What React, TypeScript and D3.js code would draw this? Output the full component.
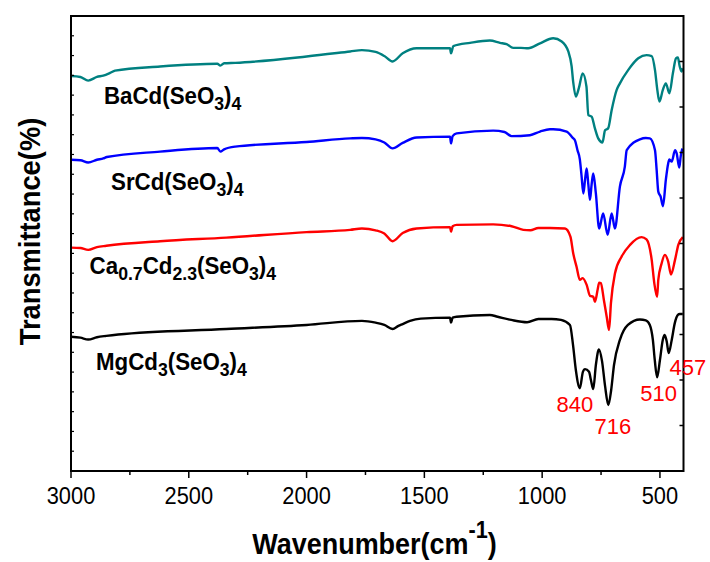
import React from "react";
import * as d3 from "d3";

// ---- data (wavenumber cm^-1, transmittance in arbitrary %-units) ----
const baData: [number, number][] = [
  [3000, 86.8], [2960, 86.6], [2927, 85.8], [2890, 86.6], [2863, 86.9], [2834, 87.5], [2813, 88.0],
  [2622, 88.9], [2379, 89.5], [2366, 89.1], [2350, 89.6], [2303, 89.7], [2000, 91.1], [1815, 92.2],
  [1765, 92.5], [1707, 92.1], [1670, 91.2], [1635, 90.0], [1592, 91.8], [1533, 92.9], [1391, 92.9],
  [1387, 91.8], [1377, 93.4], [1306, 94.1], [1222, 94.6], [1179, 94.1], [1151, 93.8], [1123, 93.0],
  [1090, 93.0], [1059, 92.9], [1009, 94.0], [953, 95.1], [917, 94.4], [889, 92.2], [875, 89.0],
  [868, 85.4], [857, 82.3], [844, 84.2], [828, 87.4], [812, 84.5], [804, 78.2], [790, 77.9],
  [776, 75.3], [762, 73.1], [744, 72.2], [733, 74.9], [720, 75.3], [705, 79.3], [684, 83.7],
  [670, 85.2], [635, 88.1], [592, 90.7], [557, 91.4], [535, 91.2], [521, 88.1], [511, 83.7],
  [502, 81.2], [488, 83.7], [475, 85.2], [460, 83.0], [445, 87.4], [432, 90.7], [424, 90.9],
  [416, 88.9], [408, 87.8], [404, 88.5],
];

const srData: [number, number][] = [
  [3000, 68.4], [2960, 68.3], [2927, 67.8], [2890, 68.4], [2863, 68.7], [2848, 69.0], [2622, 70.2],
  [2379, 71.0], [2366, 70.2], [2350, 70.7], [2303, 71.3], [2000, 72.3], [1815, 73.1], [1765, 73.2],
  [1707, 72.9], [1670, 72.2], [1635, 70.9], [1592, 72.1], [1533, 73.3], [1391, 73.5], [1387, 72.0],
  [1380, 73.6], [1363, 74.2], [1208, 74.8], [1160, 74.5], [1130, 73.6], [1052, 73.8], [1009, 74.6],
  [967, 75.1], [953, 75.1], [896, 74.6], [870, 73.2], [861, 72.7], [850, 70.5], [840, 68.5],
  [833, 65.0], [825, 61.0], [818, 64.0], [811, 66.5], [804, 63.0], [797, 59.6], [790, 63.0],
  [783, 65.4], [772, 61.0], [758, 53.3], [741, 56.6], [722, 51.9], [705, 56.6], [691, 53.3],
  [670, 62.5], [649, 66.9], [641, 70.5], [585, 72.9], [560, 73.2], [543, 73.1], [521, 70.5],
  [514, 66.2], [507, 61.4], [497, 60.3], [487, 58.2], [475, 64.0], [465, 67.6], [460, 68.5],
  [450, 68.0], [436, 70.5], [429, 69.8], [418, 66.7], [412, 69.1], [405, 70.9],
];

const caData: [number, number][] = [
  [3000, 49.1], [2960, 49.0], [2927, 48.6], [2890, 49.2], [2850, 49.5], [2622, 50.5], [2341, 51.3],
  [2000, 52.5], [1815, 53.0], [1765, 53.3], [1707, 52.9], [1670, 52.2], [1635, 50.5], [1592, 52.3],
  [1533, 53.3], [1391, 53.6], [1387, 52.6], [1380, 53.8], [1363, 54.1], [1208, 54.2], [1130, 53.8],
  [1080, 53.0], [1050, 52.9], [1016, 53.4], [967, 53.4], [903, 53.3], [880, 51.5], [868, 47.8],
  [854, 44.9], [840, 42.0], [828, 42.4], [811, 40.9], [797, 38.5], [783, 38.3], [776, 37.2],
  [764, 40.0], [758, 41.4], [751, 41.3], [738, 37.6], [726, 33.9], [716, 31.0], [708, 36.9],
  [691, 43.4], [663, 47.1], [627, 49.7], [578, 51.4], [557, 50.9], [535, 46.4], [524, 41.3],
  [512, 38.3], [507, 42.0], [493, 45.6], [479, 47.5], [465, 46.0], [453, 43.2], [436, 46.4],
  [422, 49.7], [403, 51.4],
];

const mgData: [number, number][] = [
  [3000, 29.5], [2960, 29.3], [2927, 28.9], [2890, 29.4], [2850, 29.7], [2800, 30.0], [2341, 31.2],
  [2000, 32.1], [1765, 33.0], [1707, 32.6], [1670, 32.1], [1635, 31.2], [1610, 31.9], [1592, 32.3],
  [1561, 33.0], [1515, 33.5], [1391, 33.7], [1387, 32.6], [1380, 33.7], [1363, 33.9], [1222, 34.3],
  [1189, 33.9], [1131, 33.2], [1064, 32.7], [1016, 33.4], [960, 33.4], [920, 33.2], [882, 32.1],
  [869, 27.7], [857, 22.2], [840, 18.2], [827, 21.8], [818, 22.4], [801, 21.8], [793, 20.0],
  [783, 18.0], [772, 23.3], [759, 26.7], [746, 24.2], [733, 18.7], [719, 14.5], [707, 17.8],
  [695, 23.3], [670, 28.8], [636, 32.1], [585, 33.3], [560, 33.1], [543, 32.1], [530, 28.8],
  [522, 24.4], [512, 20.6], [500, 24.4], [488, 28.8], [480, 29.9], [471, 28.4], [463, 25.9],
  [450, 28.8], [437, 32.5], [424, 34.3], [416, 34.5], [403, 34.5],
];

const seriesColors = ["#008080", "#0000ff", "#ff0000", "#000000"];

const xMajorTicks = [3000, 2500, 2000, 1500, 1000, 500];
const xMinorTicks = [2750, 2250, 1750, 1250, 750];
const yLeftTicks = d3.range(1, 23).map((i) => (i * 100) / 23);
const yRightTicks = d3.range(1, 10).map((i) => i * 10);

// sample labels: segments [text, kind]
type Seg = [string, "n" | "sub"];
const sampleLabels: { segs: Seg[]; w: number; t: number }[] = [
  { segs: [["BaCd(SeO", "n"], ["3", "sub"], [")", "n"], ["4", "sub"]], w: 2860, t: 80.7 },
  { segs: [["SrCd(SeO", "n"], ["3", "sub"], [")", "n"], ["4", "sub"]], w: 2830, t: 61.8 },
  {
    segs: [["Ca", "n"], ["0.7", "sub"], ["Cd", "n"], ["2.3", "sub"], ["(SeO", "n"], ["3", "sub"], [")", "n"], ["4", "sub"]],
    w: 2921, t: 43.2,
  },
  { segs: [["MgCd", "n"], ["3", "sub"], ["(SeO", "n"], ["3", "sub"], [")", "n"], ["4", "sub"]], w: 2894, t: 22.3 },
];

const peakLabels = [
  { text: "840", w: 861, t: 13.0 },
  { text: "716", w: 700, t: 8.2 },
  { text: "510", w: 506, t: 15.4 },
  { text: "457", w: 381, t: 21.0 },
];

const W = 710;
const H = 562;
const plot = { left: 71, right: 683.5, top: 16, bottom: 471 };

export default function App() {
  const x = d3.scaleLinear().domain([3000, 400]).range([plot.left, plot.right]);
  const y = d3.scaleLinear().domain([0, 100]).range([plot.bottom, plot.top]);
  const line = d3
    .line<[number, number]>()
    .x((d) => x(d[0]))
    .y((d) => y(d[1]))
    .curve(d3.curveMonotoneX);

  const series = [baData, srData, caData, mgData];
  const font = "'Liberation Sans', Arial, Helvetica, sans-serif";

  return (
    <svg
      width={W}
      height={H}
      viewBox={`0 0 ${W} ${H}`}
      style={{ position: "absolute", left: 0, top: 0, background: "#fff" }}
      fontFamily={font}
    >
      <rect x={0} y={0} width={W} height={H} fill="#fff" />
      {series.map((s, i) => (
        <path key={i} d={line(s) || ""} fill="none" stroke={seriesColors[i]} strokeWidth={2.4} strokeLinejoin="round" />
      ))}
      {/* frame */}
      <rect
        x={plot.left}
        y={plot.top}
        width={plot.right - plot.left}
        height={plot.bottom - plot.top}
        fill="none"
        stroke="#000"
        strokeWidth={2}
      />
      {/* bottom ticks */}
      {xMajorTicks.map((t) => (
        <line key={"M" + t} x1={x(t)} x2={x(t)} y1={plot.bottom} y2={plot.bottom + 7} stroke="#000" strokeWidth={1.5} />
      ))}
      {xMinorTicks.map((t) => (
        <line key={"m" + t} x1={x(t)} x2={x(t)} y1={plot.bottom} y2={plot.bottom + 4} stroke="#000" strokeWidth={1.5} />
      ))}
      {xMajorTicks.map((t) => (
        <g key={"L" + t} transform={`translate(${x(t)},504) scale(0.95,1)`}>
          <text x={0} y={0} fontSize={23} textAnchor="middle" fill="#000">
            {t}
          </text>
        </g>
      ))}
      {/* left ticks */}
      {yLeftTicks.map((t, i) => (
        <line key={"yl" + i} x1={plot.left} x2={plot.left + 3} y1={y(t)} y2={y(t)} stroke="#000" strokeWidth={1.2} />
      ))}
      {/* right ticks */}
      {yRightTicks.map((t, i) => (
        <line key={"yr" + i} x1={plot.right} x2={plot.right - 4} y1={y(t)} y2={y(t)} stroke="#000" strokeWidth={1.5} />
      ))}
      {/* sample labels */}
      {sampleLabels.map((lab, i) => (
        <g key={"s" + i} transform={`translate(${x(lab.w)},${y(lab.t)}) scale(0.93,1)`}>
          <text x={0} y={0} fontSize={24} fontWeight="bold" fill="#000">
            {lab.segs.map((sg, j) => {
              const prev = j > 0 ? lab.segs[j - 1][1] : "n";
              let dy = 0;
              if (sg[1] === "sub" && prev === "n") dy = 6;
              if (sg[1] === "n" && prev === "sub") dy = -6;
              return (
                <tspan key={j} dy={dy} fontSize={sg[1] === "sub" ? 19 : 24}>
                  {sg[0]}
                </tspan>
              );
            })}
          </text>
        </g>
      ))}
      {/* peak labels */}
      {peakLabels.map((p) => (
        <text key={p.text} x={x(p.w)} y={y(p.t)} fontSize={22} textAnchor="middle" fill="#ff0000">
          {p.text}
        </text>
      ))}
      {/* axis titles */}
      <g transform="translate(374.5,554) scale(0.9,1)">
        <text x={0} y={0} fontSize={30} fontWeight="bold" textAnchor="middle" fill="#000">
          <tspan>Wavenumber(cm</tspan>
          <tspan fontSize={24} dy={-16}>-1</tspan>
          <tspan dy={16}>)</tspan>
        </text>
      </g>
      <g transform="translate(40,231.5) rotate(-90) scale(0.91,1)">
        <text x={0} y={0} fontSize={30} fontWeight="bold" textAnchor="middle" fill="#000">
          Transmittance(%)
        </text>
      </g>
    </svg>
  );
}
